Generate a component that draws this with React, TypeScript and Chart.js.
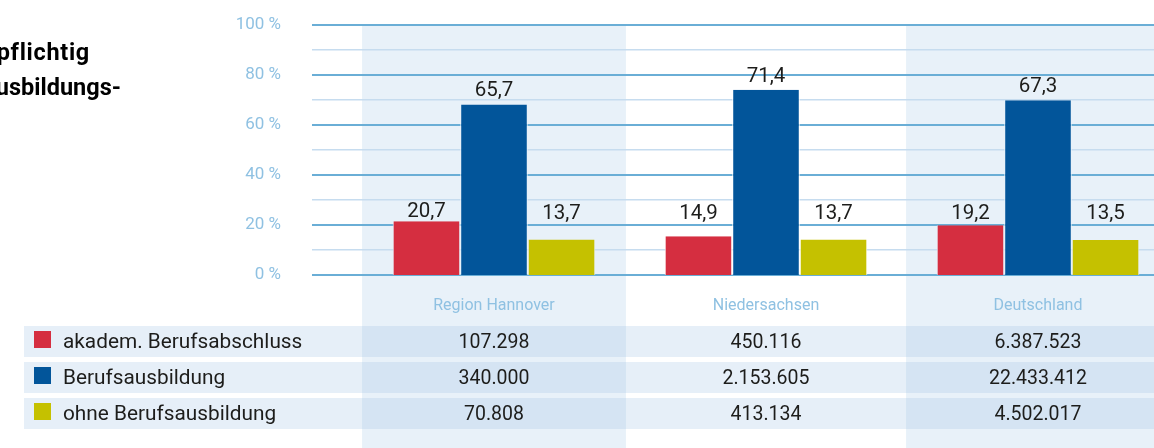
import React, { useEffect, useRef } from 'react';
import { Chart, registerables } from 'chart.js';

Chart.register(...registerables);

// ---------- data ----------
const categories = ['Region Hannover', 'Niedersachsen', 'Deutschland'];
const seriesNames = ['akadem. Berufsabschluss', 'Berufsausbildung', 'ohne Berufsausbildung'];
const akademShare = [20.7, 14.9, 19.2];
const berufShare = [65.7, 71.4, 67.3];
const ohneShare = [13.7, 13.7, 13.5];
const akademCount = ['107.298', '450.116', '6.387.523'];
const berufCount = ['340.000', '2.153.605', '22.433.412'];
const ohneCount = ['70.808', '413.134', '4.502.017'];
const titleLines = ['Sozialversicherungspflichtig', 'Beschäftigte nach Berufsausbildungs-'];

// ---------- style ----------
const seriesColors = ['#d52e40', '#02559a', '#c5c100'];
const FONT = 'Roboto, "Noto Sans", sans-serif';
const TEXT = '#1d1d1b';
const TICK = '#8fc1e2';
const MAJOR = '#6aaed6';
const MINOR = '#c6dcef';
const BAND = '#e8f1f9';
const ROW = 'rgba(159,193,228,0.26)';
const CANVAS_W = 1174;
const CANVAS_H = 448;
const LABEL_FLOOR = 20;

const fmt = (v: number) => v.toLocaleString('de-DE', { minimumFractionDigits: 1, maximumFractionDigits: 1 });

const backgroundPlugin = {
  id: 'bgBands',
  beforeDraw(chart: any) {
    const { ctx, chartArea } = chart;
    const x = chart.scales.x;
    const cw = (chartArea.right - chartArea.left) / categories.length;
    ctx.save();
    ctx.fillStyle = BAND;
    categories.forEach((_, i) => {
      if (i % 2 === 1) return;
      const cx = x.getPixelForValue(i);
      ctx.fillRect(cx - cw * 0.485, chartArea.top, cw * 0.97, chart.height - chartArea.top);
    });
    // table rows
    ctx.fillStyle = ROW;
    for (let r = 0; r < seriesNames.length; r++) {
      const top = chartArea.bottom + 51 + r * 36;
      ctx.fillRect(24, top, chart.width - 24, 31);
    }
    ctx.restore();
  },
};

const labelPlugin = {
  id: 'barLabels',
  afterDatasetsDraw(chart: any) {
    const { ctx } = chart;
    const yb = chart.scales.yb;
    ctx.save();
    ctx.font = `20.5px ${FONT}`;
    ctx.fillStyle = TEXT;
    ctx.textAlign = 'center';
    ctx.textBaseline = 'alphabetic';
    chart.data.datasets.forEach((ds: any, di: number) => {
      const meta = chart.getDatasetMeta(di);
      meta.data.forEach((bar: any, i: number) => {
        const top = bar.y;
        const y = di === 1 ? top - 8 : Math.min(top, yb.getPixelForValue(LABEL_FLOOR)) - 4;
        ctx.fillText(fmt(ds.data[i]), bar.x, y);
      });
    });
    ctx.restore();
  },
};

const tablePlugin = {
  id: 'table',
  afterDraw(chart: any) {
    const { ctx, chartArea } = chart;
    const x = chart.scales.x;
    const counts = [akademCount, berufCount, ohneCount];
    ctx.save();
    ctx.textBaseline = 'alphabetic';
    for (let r = 0; r < seriesNames.length; r++) {
      const top = chartArea.bottom + 51 + r * 36;
      ctx.fillStyle = seriesColors[r];
      ctx.fillRect(34, top + 5, 17, 17);
      ctx.fillStyle = TEXT;
      ctx.font = `20.8px ${FONT}`;
      ctx.textAlign = 'left';
      ctx.fillText(seriesNames[r], 63, top + 21.5);
      ctx.font = `19.5px ${FONT}`;
      ctx.textAlign = 'center';
      counts[r].forEach((c, i) => {
        ctx.fillText(c, x.getPixelForValue(i), top + 21.5);
      });
    }
    // title (cut off at the left edge)
    ctx.fillStyle = '#000000';
    ctx.font = `bold 23.5px ${FONT}`;
    ctx.textAlign = 'right';
    (ctx as any).letterSpacing = '0.7px';
    ctx.fillText(titleLines[0], 90, 59.5);
    (ctx as any).letterSpacing = '0px';
    ctx.fillText(titleLines[1], 121, 94.5);
    ctx.restore();
  },
};

export default function App() {
  const ref = useRef<HTMLCanvasElement | null>(null);

  useEffect(() => {
    document.body.style.margin = '0';
    const canvas = ref.current;
    if (!canvas) return;
    const sideColor = (ctx: any) => (ctx.dataIndex % 2 === 1 ? '#ffffff' : BAND);
    const chart = new Chart(canvas, {
      type: 'bar',
      data: {
        labels: categories,
        datasets: [
          { label: seriesNames[0], data: akademShare, backgroundColor: seriesColors[0] },
          { label: seriesNames[1], data: berufShare, backgroundColor: seriesColors[1] },
          { label: seriesNames[2], data: ohneShare, backgroundColor: seriesColors[2] },
        ].map((d) => ({
          ...d,
          yAxisID: 'yb',
          borderColor: sideColor,
          borderWidth: { left: 1, right: 1, top: 0, bottom: 0 },
          borderSkipped: 'start',
          categoryPercentage: 0.745,
          barPercentage: 1,
        })),
      },
      options: {
        animation: false,
        responsive: false,
        devicePixelRatio: 1,
        layout: { padding: { top: 25, left: 0, right: 0, bottom: 0 } },
        plugins: {
          legend: { display: false },
          tooltip: { enabled: false },
          title: { display: false },
        },
        scales: {
          x: {
            type: 'category',
            grid: { display: false, drawTicks: false },
            border: { display: false },
            ticks: {
              color: TICK,
              font: { family: FONT, size: 16 },
              padding: 21,
              maxRotation: 0,
            },
            afterFit: (s: any) => {
              s.height = 173;
            },
          },
          y: {
            type: 'linear',
            position: 'left',
            min: 0,
            max: 100,
            border: { display: false },
            grid: {
              color: (c: any) => (c.tick && c.tick.value % 20 === 0 ? MAJOR : MINOR),
              lineWidth: (c: any) => (c.tick && c.tick.value % 20 === 0 ? 2 : 1.5),
              drawTicks: true,
              tickLength: 46,
            },
            ticks: {
              stepSize: 10,
              color: TICK,
              font: { family: FONT, size: 17 },
              padding: 31,
              callback: (v: any) => (Number(v) % 20 === 0 ? `${v} %` : ''),
            },
            afterFit: (s: any) => {
              s.width = 358;
              s.paddingTop = 10;
              s.paddingBottom = 10;
            },
          },
          yb: {
            type: 'linear',
            display: false,
            min: 0,
            max: 96.3,
          },
        },
      } as any,
      plugins: [backgroundPlugin, labelPlugin, tablePlugin],
    });
    return () => chart.destroy();
  }, []);

  return (
    <div style={{ width: 1154, height: 448, overflow: 'hidden', position: 'relative' }}>
      <canvas ref={ref} width={CANVAS_W} height={CANVAS_H} style={{ display: 'block' }} />
    </div>
  );
}
